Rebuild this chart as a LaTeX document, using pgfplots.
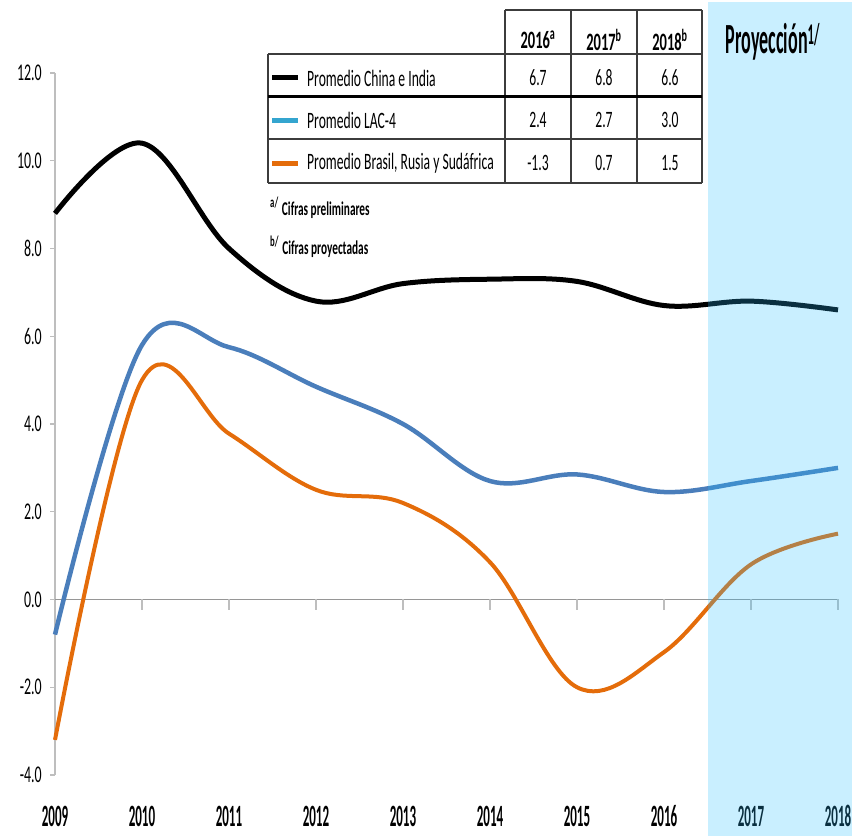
\documentclass[border=0pt]{standalone}
\usepackage{pgfplots}
\pgfplotsset{compat=1.18}
\usepackage{fontspec}
\setmainfont{Carlito}[FakeStretch=0.58]
\newfontfamily\xfont{Carlito}[FakeStretch=0.42]
\definecolor{cblack}{RGB}{0,0,0}
\definecolor{cblue}{RGB}{74,126,187}
\definecolor{corange}{RGB}{228,108,10}
\definecolor{cshade}{RGB}{40,190,255}
\definecolor{cgrid}{RGB}{150,150,150}
\definecolor{caxis}{RGB}{190,190,190}
\definecolor{ctab}{RGB}{60,60,60}
\begin{document}
\begin{tikzpicture}
\begin{axis}[
  at={(0pt,0pt)}, anchor=south west,
  scale only axis, width=783pt, height=702pt,
  xmin=2009, xmax=2018, ymin=-4, ymax=12,
  clip=false,
  axis x line=bottom, axis y line=left,
  x axis line style={draw=none},
  y axis line style={draw=caxis, line width=1.2pt, -},
  xtick={2009,2010,...,2018},
  xticklabels={2009,2010,2011,2012,2013,2014,2015,2016,2017,2018},
  x tick style={draw=none},
  xticklabel style={font=\xfont\bfseries\fontsize{31}{31}\selectfont, anchor=base, yshift=-46pt, inner sep=0pt, text=black},
  ytick={-4,-2,...,12},
  yticklabels={-4.0,-2.0,0.0,2.0,4.0,6.0,8.0,10.0,12.0},
  y tick style={draw=caxis, line width=1.2pt},
  tick align=outside, major tick length=5pt,
  yticklabel style={font=\fontsize{24}{24}\selectfont, text=black, inner sep=0pt, xshift=-8pt},
]
% zero line with year ticks
\draw[cgrid, line width=1.8pt] (axis cs:2009,0) -- (axis cs:2018,0);
\pgfplotsinvokeforeach{2010,2011,...,2018}{
  \draw[caxis, line width=1.2pt] (axis cs:#1,0) -- ([yshift=-11pt]axis cs:#1,0);
}
\addplot[cblack, line width=5pt, smooth, tension=0.6] coordinates {
 (2009,8.8) (2010,10.4) (2011,8.0) (2012,6.8) (2013,7.2) (2014,7.3) (2015,7.25) (2016,6.7) (2017,6.8) (2018,6.6)};
\addplot[cblue, line width=4.5pt, smooth, tension=0.6] coordinates {
 (2009,-0.8) (2010,5.8) (2011,5.75) (2012,4.85) (2013,4.0) (2014,2.7) (2015,2.85) (2016,2.45) (2017,2.7) (2018,3.0)};
\addplot[corange, line width=4pt, smooth, tension=0.6] coordinates {
 (2009,-3.2) (2010,5.0) (2011,3.78) (2012,2.5) (2013,2.2) (2014,0.85) (2015,-2.0) (2016,-1.2) (2017,0.8) (2018,1.5)};
% projection shading
\fill[cshade, fill opacity=0.25] (axis cs:2016.5,-5.4) rectangle (axis cs:2018.2,13.62);
\end{axis}
% table and annotations in pixel coordinates
\begin{scope}[x=1pt, y=-1pt, shift={(-55pt,775pt)}]
  \node[font=\xfont\bfseries\fontsize{43}{43}\selectfont, anchor=center] at (773,42) {Proyecci\'on\textsuperscript{1/}};
  % table lines
  \draw[ctab, line width=1.3pt] (505,10) -- (702,10);
  \foreach \xx in {505,571,637,702} { \draw[ctab, line width=1.3pt] (\xx,10) -- (\xx,183); }
  \draw[ctab, line width=1.3pt] (268,54) -- (702,54);
  \draw[ctab, line width=1.3pt] (268,54) -- (268,183);
  \draw[black, line width=3pt] (268,97) -- (702,97);
  \draw[ctab, line width=1.3pt] (268,139) -- (702,139);
  \draw[ctab, line width=1.3pt] (268,183) -- (702,183);
  % header
  \node[font=\bfseries\fontsize{25}{25}\selectfont] at (538,40) {2016\textsuperscript{a}};
  \node[font=\bfseries\fontsize{25}{25}\selectfont] at (604,40) {2017\textsuperscript{b}};
  \node[font=\bfseries\fontsize{25}{25}\selectfont] at (670,40) {2018\textsuperscript{b}};
  % swatches
  \draw[cblack, line width=5pt] (272,78) -- (298,78);
  \draw[cblue!70!cyan, line width=5pt] (272,121) -- (298,121);
  \draw[corange, line width=5pt] (272,164) -- (298,164);
  % row labels
  \node[font=\fontsize{23.5}{23.5}\selectfont, anchor=west, inner sep=0pt] at (307,78) {Promedio China e India};
  \node[font=\fontsize{23.5}{23.5}\selectfont, anchor=west, inner sep=0pt] at (307,120) {Promedio LAC-4};
  \node[font=\fontsize{23.5}{23.5}\selectfont, anchor=west, inner sep=0pt] at (307,163) {Promedio Brasil, Rusia y Sud\'africa};
  % values
  \foreach \v/\xx/\yy in {6.7/538/78, 6.8/604/78, 6.6/670/78, 2.4/538/120, 2.7/604/120, 3.0/670/120, -1.3/538/163, 0.7/604/163, 1.5/670/163}{
    \node[font=\fontsize{23.5}{23.5}\selectfont] at (\xx,\yy) {\v};
  }
  % footnotes
  \node[font=\bfseries\fontsize{19.5}{19.5}\selectfont, anchor=west, inner sep=0pt] at (270,208) {\textsuperscript{\fontsize{15}{15}\selectfont a/}\,Cifras preliminares};
  \node[font=\bfseries\fontsize{19.5}{19.5}\selectfont, anchor=west, inner sep=0pt] at (270,247) {\textsuperscript{\fontsize{15}{15}\selectfont b/}\,Cifras proyectadas};
\end{scope}
\pgfresetboundingbox
\path[use as bounding box] (-55pt,-61pt) rectangle (797pt,775pt);
\end{tikzpicture}
\end{document}
